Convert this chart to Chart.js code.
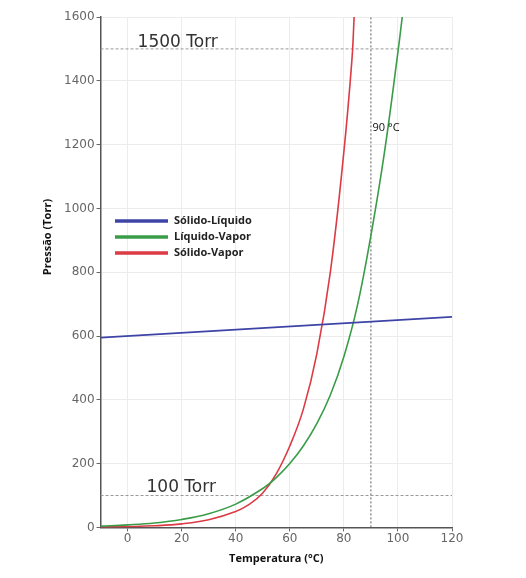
<!DOCTYPE html>
<html>
<head>
<meta charset="utf-8">
<script src="https://cdn.jsdelivr.net/npm/chart.js@4"></script>
<style>
  html, body { margin: 0; padding: 0; background: #fff; }
  #wrap { width: 526px; height: 578px; position: relative; }
</style>
</head>
<body>
<div id="wrap"><canvas id="myChart" width="526" height="578"></canvas></div>
<script>
"use strict";

// valores
const xTicks = [0, 20, 40, 60, 80, 100, 120];
const yTicks = [0, 200, 400, 600, 800, 1000, 1200, 1400, 1600];

const seriesNames = ['Sólido-Líquido', 'Líquido-Vapor', 'Sólido-Vapor'];

const solLiqT = [-10, 120];
const solLiqP = [595, 660];

const liqVapT = [-10, 0, 10, 20, 30, 40, 50, 55, 60, 65, 70, 75, 80, 85, 90, 95, 100, 101.6];
const liqVapP = [4, 8, 14, 25, 43, 73, 122, 156, 200, 255, 325, 415, 535, 695, 915, 1175, 1490, 1600];

const solVapT = [-10, 0, 10, 20, 30, 40, 45, 50, 55, 60, 65, 70, 75, 80, 83, 83.8];
const solVapP = [1, 2.5, 5, 11, 24, 50, 72, 108, 168, 255, 370, 544, 800, 1177, 1468, 1600];

const refPressures = [1500, 100];
const refTemp = 90;

function pts(xs, ys) {
    return xs.map((x, i) => ({x: x, y: ys[i]}));
}

const colors = ['#3d44a6', '#3a9c48', '#dc3a44'];

// legenda, títulos e rótulos desenhados por cima
const annotations = {
    id: 'annotations',
    afterDraw(chart) {
        const ctx = chart.ctx;
        const xs = chart.scales.x, ys = chart.scales.y;
        ctx.save();
        ctx.fillStyle = '#333';
        ctx.font = '17px "DejaVu Sans"';
        ctx.textBaseline = 'alphabetic';
        ctx.textAlign = 'left';
        ctx.fillText('1500 Torr', xs.getPixelForValue(3.7), ys.getPixelForValue(1500) - 2);
        ctx.fillText('100 Torr', xs.getPixelForValue(7), ys.getPixelForValue(100) - 4);

        ctx.fillStyle = '#111';
        ctx.font = '11px "Open Sans"';
        ctx.textBaseline = 'middle';
        ctx.fillText('90 °C', xs.getPixelForValue(90.6), ys.getPixelForValue(1252));

        // título do eixo y (fora do centro, como no original)
        ctx.save();
        ctx.translate(48, 237);
        ctx.rotate(-Math.PI / 2);
        ctx.textAlign = 'center';
        ctx.font = 'bold 11px "Open Sans"';
        ctx.fillText('Pressão (Torr)', 0, 0);
        ctx.restore();

        // legenda
        const lx = 115, ly = 221, gap = 16;
        ctx.font = 'bold 11px "Open Sans"';
        seriesNames.forEach((name, i) => {
            const y = ly + i * gap;
            ctx.strokeStyle = colors[i];
            ctx.lineWidth = 3.5;
            ctx.beginPath();
            ctx.moveTo(lx, y);
            ctx.lineTo(lx + 53, y);
            ctx.stroke();
            ctx.fillStyle = '#222';
            ctx.fillText(name, lx + 59, y);
        });
        ctx.restore();
    }
};

const ctx = document.getElementById('myChart').getContext('2d');
const chart = new Chart(ctx, {
    type: 'scatter',
    data: {
        datasets: [
            {
                label: seriesNames[0],
                data: pts(solLiqT, solLiqP),
                showLine: true,
                borderColor: colors[0],
                borderWidth: 1.6,
                pointRadius: 0
            },
            {
                label: seriesNames[1],
                data: pts(liqVapT, liqVapP),
                showLine: true,
                tension: 0.4,
                borderColor: colors[1],
                borderWidth: 1.6,
                pointRadius: 0
            },
            {
                label: seriesNames[2],
                data: pts(solVapT, solVapP),
                showLine: true,
                tension: 0.4,
                borderColor: colors[2],
                borderWidth: 1.6,
                pointRadius: 0
            },
            // linhas de referência
            ...refPressures.map(p => ({
                label: 'ref',
                data: pts([-10, 120], [p, p]),
                showLine: true,
                borderColor: '#9a9a9a',
                borderWidth: 1,
                borderDash: [3, 2],
                pointRadius: 0
            })),
            {
                label: 'ref',
                data: pts([refTemp, refTemp], [0, 1600]),
                showLine: true,
                borderColor: '#777',
                borderWidth: 1.2,
                borderDash: [2, 2],
                pointRadius: 0
            }
        ]
    },
    options: {
        responsive: false,
        animation: false,
        layout: {
            padding: {top: 17, right: 74, left: 62, bottom: 13}
        },
        plugins: {
            legend: {display: false},
            tooltip: {enabled: false}
        },
        scales: {
            x: {
                type: 'linear',
                min: -10,
                max: 120,
                afterBuildTicks: axis => { axis.ticks = xTicks.map(v => ({value: v})); },
                grid: {color: '#ececec', tickLength: 4, tickColor: '#666'},
                border: {color: '#555', width: 1.5},
                ticks: {
                    color: '#666',
                    font: {family: 'DejaVu Sans', size: 12},
                    padding: 0,
                    callback: v => String(v)
                },
                title: {
                    display: true,
                    text: 'Temperatura (°C)',
                    color: '#111',
                    font: {family: 'Open Sans', size: 11, weight: 'bold'},
                    padding: {top: 6, bottom: 0}
                }
            },
            y: {
                min: 0,
                max: 1600,
                afterBuildTicks: axis => { axis.ticks = yTicks.map(v => ({value: v})); },
                grid: {color: '#ececec', tickLength: 4, tickColor: '#666'},
                border: {color: '#555', width: 1.5},
                ticks: {
                    color: '#666',
                    font: {family: 'DejaVu Sans', size: 12},
                    padding: 2,
                    callback: v => String(v)
                }
            }
        }
    },
    plugins: [annotations]
});
</script>
</body>
</html>
